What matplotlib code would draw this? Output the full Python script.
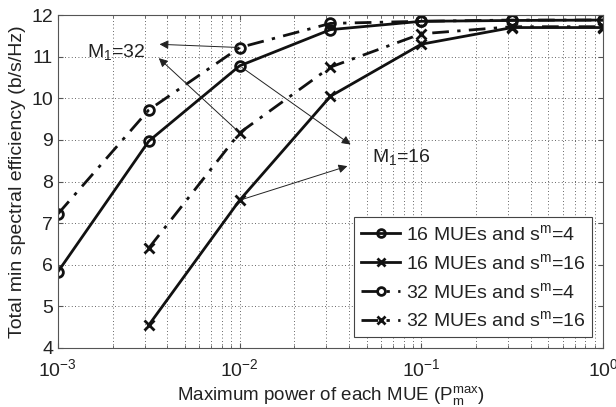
import matplotlib
matplotlib.use("Agg")
import matplotlib.pyplot as plt
import numpy as np

plt.rcParams["font.family"] = ["Liberation Sans", "DejaVu Sans"]
plt.rcParams["mathtext.fontset"] = "custom"
plt.rcParams["mathtext.rm"] = "Liberation Sans"
plt.rcParams["mathtext.it"] = "Liberation Sans"

# data
power = [1e-3, 10 ** -2.5, 1e-2, 10 ** -1.5, 1e-1, 10 ** -0.5, 1.0]
mue16_s4 = [5.83, 8.97, 10.78, 11.65, 11.85, 11.87, 11.88]
mue16_s16 = [np.nan, 4.55, 7.55, 10.05, 11.30, 11.70, 11.70]
mue32_s4 = [7.22, 9.72, 11.22, 11.80, 11.85, 11.88, 11.88]
mue32_s16 = [np.nan, 6.40, 9.17, 10.75, 11.55, 11.72, 11.72]
labels = ["16 MUEs and s$^{\\mathrm{m}}$=4", "16 MUEs and s$^{\\mathrm{m}}$=16",
          "32 MUEs and s$^{\\mathrm{m}}$=4", "32 MUEs and s$^{\\mathrm{m}}$=16"]

fig = plt.figure(figsize=(6.16, 4.07), dpi=100)
ax = fig.add_axes([0.094, 0.145, 0.885, 0.818])

dashdot = (0, (6, 3, 1.2, 3))
styles = [("-", "o"), ("-", "x"), (dashdot, "o"), (dashdot, "x")]
series = [mue16_s4, mue16_s16, mue32_s4, mue32_s16]
for y, (ls, mk), lab in zip(series, styles, labels):
    ax.plot(power, y, color="#111111", linestyle=ls, linewidth=2, marker=mk,
            markersize=7, markeredgewidth=2, markerfacecolor="none", label=lab)

ax.set_xscale("log")
ax.set_xlim(1e-3, 1)
ax.set_ylim(4, 12)
ax.set_yticks(range(4, 13))
ax.grid(True, which="major", color="#333333", linestyle=(0, (1, 3)), linewidth=0.6)
ax.grid(True, which="minor", axis="x", color="#333333", linestyle=(0, (1, 3)), linewidth=0.6)
ax.tick_params(which="both", direction="in", top=True, right=True, labelsize=14,
               colors="#555555", labelcolor="#222222")
ax.tick_params(axis="x", pad=7)
ax.tick_params(which="minor", length=2)
for sp in ax.spines.values():
    sp.set_color("#555555")

ax.set_xlabel("Maximum power of each MUE (P$_{\\mathrm{m}}^{\\mathrm{max}}$)",
              fontsize=13.5, color="#222222", labelpad=3)
ax.set_ylabel("Total min spectral efficiency (b/s/Hz)", fontsize=14,
              color="#222222", labelpad=4)

arrow = dict(arrowstyle="-|>", color="#222222", linewidth=0.7, mutation_scale=13)
ax.annotate("", xy=(0.0035, 11.30), xytext=(1e-2, 11.22), arrowprops=arrow)
ax.annotate("", xy=(0.0035, 11.01), xytext=(1e-2, 9.17), arrowprops=arrow)
ax.annotate("", xy=(0.042, 8.85), xytext=(1e-2, 10.78), arrowprops=arrow)
ax.annotate("", xy=(0.0405, 8.39), xytext=(1e-2, 7.55), arrowprops=arrow)
ax.text(0.00145, 11.11, "M$_{1}$=32", fontsize=14, va="center", color="#222222")
ax.text(0.0535, 8.59, "M$_{1}$=16", fontsize=14, va="center", color="#222222")

leg = ax.legend(loc="lower right", fontsize=14, markerscale=0.8, handlelength=2.0,
                handletextpad=0.3, fancybox=False, edgecolor="#444444", framealpha=1,
                borderaxespad=0.55, labelspacing=0.45, borderpad=0.35)
leg.get_frame().set_linewidth(0.8)
for t in leg.get_texts():
    t.set_color("#222222")

fig.savefig("out.png")
